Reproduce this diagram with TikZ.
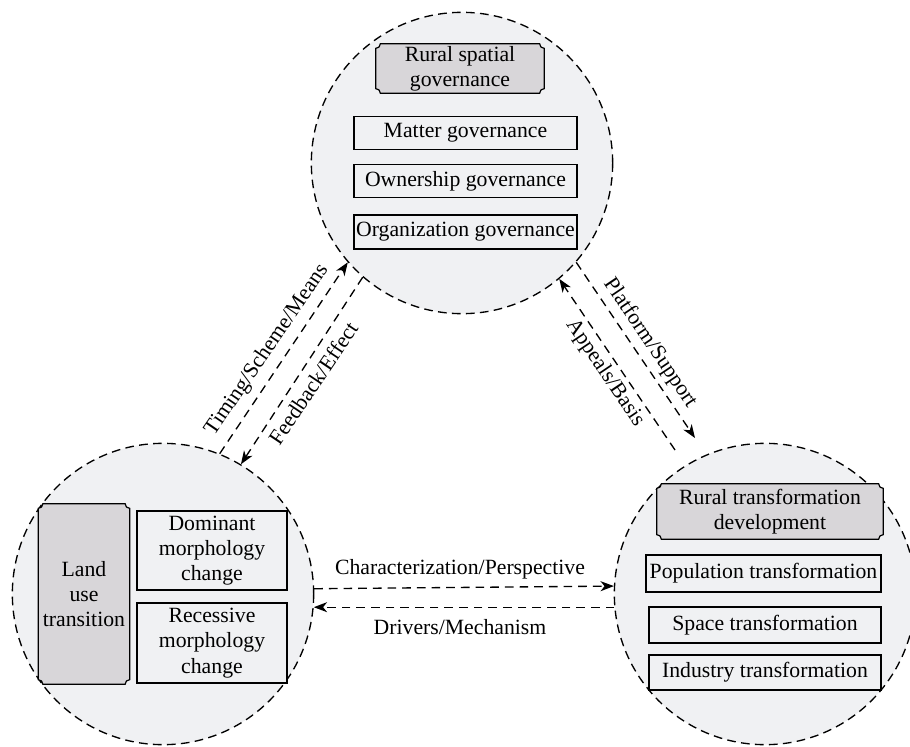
\documentclass[tikz,border=0pt]{standalone}
\usepackage{fontspec}
\setmainfont{Liberation Serif}
\usetikzlibrary{arrows.meta,calc}
\definecolor{circfill}{HTML}{F0F1F3}
\definecolor{hdrfill}{HTML}{D8D6D9}
\pgfdeclarelayer{back}
\pgfdeclarelayer{mid}
\pgfsetlayers{back,mid,main}
\newcommand\concavebox[2]{%
 \begin{pgfonlayer}{mid}
 \draw[line width=0.9pt, fill=hdrfill] ([xshift=#2]#1.south west) -- ([xshift=-#2]#1.south east)
   arc[start angle=180,end angle=90,radius=#2] -- ([yshift=-#2]#1.north east)
   arc[start angle=270,end angle=180,radius=#2] -- ([xshift=#2]#1.north west)
   arc[start angle=0,end angle=-90,radius=#2] -- ([yshift=#2]#1.south west)
   arc[start angle=90,end angle=0,radius=#2] -- cycle;
 \end{pgfonlayer}}
\tikzset{
  circ/.style={circle, draw, fill=circfill, line width=1pt, dash pattern=on 6.5pt off 4pt, minimum size=226pt, inner sep=0pt},
  hdr/.style={inner sep=0pt, align=center, font=\fontsize{16.3}{19}\selectfont},
  itembox/.style={draw, fill=circfill, line width=0.9pt, inner sep=0pt, align=center, font=\fontsize{16.3}{19}\selectfont},
  arr/.style={line width=1pt, dash pattern=on 6.5pt off 4.5pt, -{Stealth[length=10pt,width=7.5pt,inset=3pt]}},
  lbl/.style={font=\fontsize{16.3}{19}\selectfont, inner sep=0pt}
}
\begin{document}
\begin{tikzpicture}[x=0.75pt,y=0.75pt]
\useasboundingbox (0,0) rectangle (910,-746);
\begin{pgfonlayer}{back}
\node[circ] (T) at (462,-163) {};
\node[circ] (L) at (163,-594) {};
\node[circ] (R) at (765,-594) {};
\end{pgfonlayer}
% headers
\node[hdr, minimum width=126pt, minimum height=36.75pt] (TH) at (460,-68.5) {Rural spatial\\governance};
\concavebox{TH}{3.5pt}
\node[hdr, minimum width=169.5pt, minimum height=41.25pt] (RH) at (770,-511.5) {Rural transformation\\development};
\concavebox{RH}{3.5pt}
\node[hdr, minimum width=68.25pt, minimum height=135pt] (LH) at (84,-594) {Land\\use\\transition};
\concavebox{LH}{3.5pt}
% top items
\node[itembox, minimum width=167.25pt, minimum height=24.75pt] (T1) at (465.5,-133) {Matter governance};
\node[itembox, minimum width=167.25pt, minimum height=24.75pt] (T2) at (465.5,-181) {Ownership governance};
\node[itembox, minimum width=167.25pt, minimum height=25.5pt] (T3) at (465.5,-232) {Organization governance};
% left items
\node[itembox, minimum width=112.5pt, minimum height=59.25pt] (L1) at (212,-550.5) {Dominant\\morphology\\change};
\node[itembox, minimum width=112.5pt, minimum height=60pt] (L2) at (212,-643) {Recessive\\morphology\\change};
% right items
\node[itembox, minimum width=176.25pt, minimum height=27.75pt] (R1) at (763.5,-573.5) {Population transformation};
\node[itembox, minimum width=174pt, minimum height=27pt] (R2) at (765,-625) {Space transformation};
\node[itembox, minimum width=174pt, minimum height=26.25pt] (R3) at (765,-672.5) {Industry transformation};
% connectors
\coordinate (PE) at (695,-438);
\coordinate (AS) at (675,-450);
\draw[arr] (L.68.7) -- (T.221.3);
\draw[arr] (T.229.8) -- (L.59.1);
\draw[arr] (T.319) -- (PE);
\draw[arr] (AS) -- (T.310.5);
\draw[arr] (L.2.7) -- (R.177.3);
\draw[arr] (R.185.7) -- (L.-5.7);
% labels
\node[lbl, rotate=55.6] (lt) at (267,-350) {Timing/Scheme/Means};
\node[lbl, rotate=56] (lf) at (313,-383) {Feedback/Effect};
\node[lbl, rotate=-56] (lp) at (650,-343) {Platform/Support};
\node[lbl, rotate=-56] (la) at (605,-373) {Appeals/Basis};
\node[lbl] (lc) at (460,-569) {Characterization/Perspective};
\node[lbl] (ld) at (460,-627) {Drivers/Mechanism};
\end{tikzpicture}
\end{document}
